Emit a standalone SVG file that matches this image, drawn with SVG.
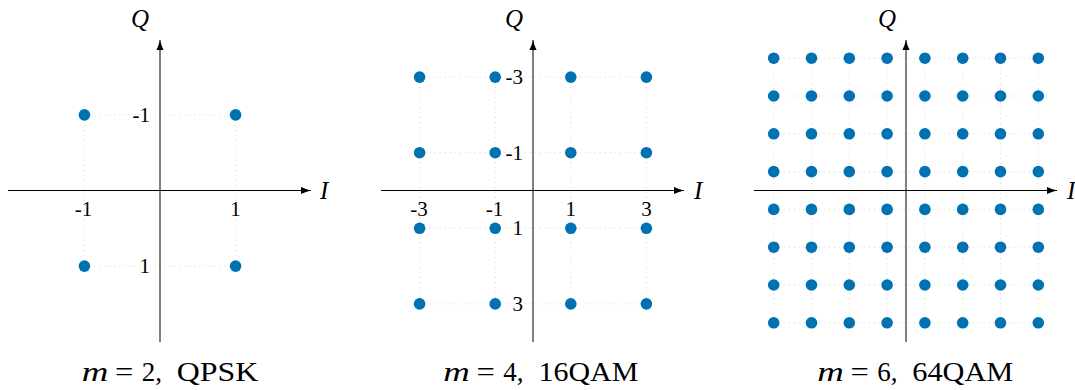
<svg xmlns="http://www.w3.org/2000/svg" width="1075" height="390" viewBox="0 0 1075 390">
<style>
.grid{stroke:#cfcfcf;stroke-width:0.9;stroke-dasharray:1 4;fill:none}
.axis{stroke:#000;stroke-width:1;fill:none;marker-end:url(#arr)}
.pt{fill:#0072B2}
.tick{font-family:"Liberation Serif",serif;font-size:21px;fill:#000}
.tq{text-anchor:end}
.ti{text-anchor:middle}
.lab{font-family:"Liberation Serif",serif;font-size:25px;font-style:italic;fill:#000}
.cap{font-family:"Liberation Serif",serif;font-size:27px;fill:#000}
.it{font-style:italic}
</style>
<defs>
<marker id="arr" viewBox="0 0 10 8" refX="10" refY="4" markerWidth="10" markerHeight="8" orient="auto" markerUnits="userSpaceOnUse">
<path d="M0,0.4 Q5,3 10,4 Q5,5 0,7.6 Z" fill="#000"/>
</marker>
</defs>

<!-- Plot 1: QPSK -->
<g id="qpsk">
<g id="qpsk-grid" class="grid">
<path d="M84.4,114.9H235.6M84.4,266.1H235.6M84.4,114.9V266.1M235.6,114.9V266.1"/>
</g>
<g id="qpsk-axes">
<line class="axis" x1="8" y1="190.5" x2="311" y2="190.5"/>
<line class="axis" x1="160" y1="342" x2="160" y2="40"/>
<text class="lab" x="131" y="27">Q</text>
<text class="lab" x="320" y="199">I</text>
</g>
<g id="qpsk-points" class="pt">
<circle cx="84.4" cy="114.9" r="5.8"/><circle cx="235.6" cy="114.9" r="5.8"/>
<circle cx="84.4" cy="266.1" r="5.8"/><circle cx="235.6" cy="266.1" r="5.8"/>
</g>
<g id="qpsk-ticks" class="tick">
<text class="ti" x="83.5" y="216">-1</text>
<text class="ti" x="235.6" y="216">1</text>
<text class="tq" x="150" y="122">-1</text>
<text class="tq" x="150" y="273">1</text>
</g>
<g id="qpsk-caption" class="cap">
<text class="it" x="81.7" y="381" textLength="26.6" lengthAdjust="spacingAndGlyphs">m</text>
<text x="115" y="381" textLength="18.3" lengthAdjust="spacingAndGlyphs">=</text>
<text x="141.7" y="381">2,</text>
<text x="176.7" y="381" textLength="81.6" lengthAdjust="spacingAndGlyphs">QPSK</text>
</g>
</g>

<!-- Plot 2: 16QAM -->
<g id="qam16">
<g id="qam16-grid" class="grid">
<path d="M419.6,77.1H646.4M419.6,152.7H646.4M419.6,228.3H646.4M419.6,303.9H646.4M419.6,77.1V303.9M495.2,77.1V303.9M570.8,77.1V303.9M646.4,77.1V303.9"/>
</g>
<g id="qam16-axes">
<line class="axis" x1="381" y1="190.5" x2="684" y2="190.5"/>
<line class="axis" x1="533" y1="342" x2="533" y2="40"/>
<text class="lab" x="505" y="27">Q</text>
<text class="lab" x="694" y="199">I</text>
</g>
<g id="qam16-points" class="pt">
<circle cx="419.6" cy="77.1" r="5.8"/><circle cx="495.2" cy="77.1" r="5.8"/><circle cx="570.8" cy="77.1" r="5.8"/><circle cx="646.4" cy="77.1" r="5.8"/>
<circle cx="419.6" cy="152.7" r="5.8"/><circle cx="495.2" cy="152.7" r="5.8"/><circle cx="570.8" cy="152.7" r="5.8"/><circle cx="646.4" cy="152.7" r="5.8"/>
<circle cx="419.6" cy="228.3" r="5.8"/><circle cx="495.2" cy="228.3" r="5.8"/><circle cx="570.8" cy="228.3" r="5.8"/><circle cx="646.4" cy="228.3" r="5.8"/>
<circle cx="419.6" cy="303.9" r="5.8"/><circle cx="495.2" cy="303.9" r="5.8"/><circle cx="570.8" cy="303.9" r="5.8"/><circle cx="646.4" cy="303.9" r="5.8"/>
</g>
<g id="qam16-ticks" class="tick">
<text class="ti" x="419" y="216">-3</text>
<text class="ti" x="494.5" y="216">-1</text>
<text class="ti" x="570.8" y="216">1</text>
<text class="ti" x="646.4" y="216">3</text>
<text class="tq" x="523" y="84">-3</text>
<text class="tq" x="523" y="160">-1</text>
<text class="tq" x="523" y="235">1</text>
<text class="tq" x="523" y="311">3</text>
</g>
<g id="qam16-caption" class="cap">
<text class="it" x="443.3" y="381" textLength="26.6" lengthAdjust="spacingAndGlyphs">m</text>
<text x="476.6" y="381" textLength="18.3" lengthAdjust="spacingAndGlyphs">=</text>
<text x="503.3" y="381">4,</text>
<text x="538.5" y="381" textLength="99.8" lengthAdjust="spacingAndGlyphs">16QAM</text>
</g>
</g>

<!-- Plot 3: 64QAM -->
<g id="qam64">
<g id="qam64-grid" class="grid">
<path d="M773.7,58.2H1038.3M773.7,96H1038.3M773.7,133.8H1038.3M773.7,171.6H1038.3M773.7,209.4H1038.3M773.7,247.2H1038.3M773.7,285H1038.3M773.7,322.8H1038.3"/>
<path d="M773.7,58.2V322.8M811.5,58.2V322.8M849.3,58.2V322.8M887.1,58.2V322.8M924.9,58.2V322.8M962.7,58.2V322.8M1000.5,58.2V322.8M1038.3,58.2V322.8"/>
</g>
<g id="qam64-axes">
<line class="axis" x1="754" y1="190.5" x2="1057" y2="190.5"/>
<line class="axis" x1="906" y1="342" x2="906" y2="40"/>
<text class="lab" x="878" y="27">Q</text>
<text class="lab" x="1067" y="199">I</text>
</g>
<g id="qam64-points" class="pt">
<g id="r1"><circle cx="773.7" cy="58.2" r="5.8"/><circle cx="811.5" cy="58.2" r="5.8"/><circle cx="849.3" cy="58.2" r="5.8"/><circle cx="887.1" cy="58.2" r="5.8"/><circle cx="924.9" cy="58.2" r="5.8"/><circle cx="962.7" cy="58.2" r="5.8"/><circle cx="1000.5" cy="58.2" r="5.8"/><circle cx="1038.3" cy="58.2" r="5.8"/></g>
<use href="#r1" y="37.8"/>
<use href="#r1" y="75.6"/>
<use href="#r1" y="113.4"/>
<use href="#r1" y="151.2"/>
<use href="#r1" y="189"/>
<use href="#r1" y="226.8"/>
<use href="#r1" y="264.6"/>
</g>
<g id="qam64-caption" class="cap">
<text class="it" x="817.3" y="381" textLength="26.6" lengthAdjust="spacingAndGlyphs">m</text>
<text x="850.6" y="381" textLength="18.3" lengthAdjust="spacingAndGlyphs">=</text>
<text x="877.3" y="381">6,</text>
<text x="912.3" y="381" textLength="101" lengthAdjust="spacingAndGlyphs">64QAM</text>
</g>
</g>
</svg>
